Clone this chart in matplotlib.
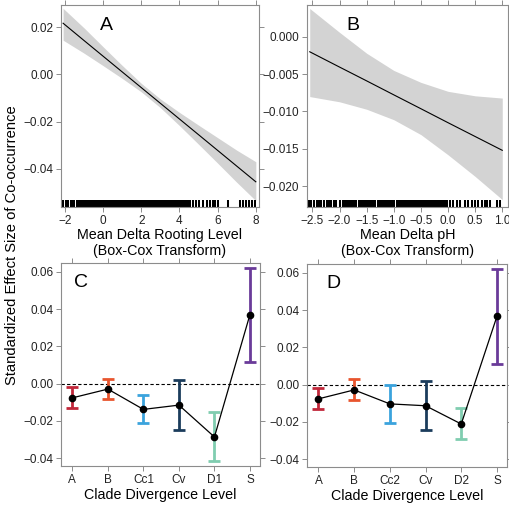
import matplotlib
matplotlib.use("Agg")
import matplotlib.pyplot as plt
import matplotlib.transforms as mtransforms

plt.rcParams['font.family'] = ['Liberation Sans', 'DejaVu Sans']

# panel A: fitted line and confidence band
a_x = [-2.1, -1, 0, 1, 2, 3, 4, 5, 6, 7, 8]
a_fit = [0.0217, 0.01435, 0.0077, 0.00105, -0.0056, -0.01225, -0.0189, -0.02555, -0.0322, -0.03885, -0.0455]
a_upper = [0.0280, 0.0197, 0.0117, 0.0038, -0.0038, -0.0104, -0.0161, -0.0215, -0.0268, -0.0321, -0.0370]
a_lower = [0.0145, 0.0090, 0.0037, -0.0017, -0.0074, -0.0141, -0.0217, -0.0296, -0.0376, -0.0457, -0.0535]
a_rug = [-2.09, -1.97, -1.83, -1.71, -1.60, -1.53, -1.39, -1.29, -1.22, -1.15, -1.09, -1.02, -0.95,
         -0.88, -0.82, -0.75, -0.69, -0.62, -0.55, -0.49, -0.42, -0.36, -0.29, -0.22, -0.16, -0.09,
         -0.03, 0.04, 0.11, 0.17, 0.24, 0.30, 0.37, 0.43, 0.50, 0.57, 0.63, 0.70, 0.76, 0.83, 0.89,
         0.96, 1.03, 1.09, 1.16, 1.22, 1.29, 1.36, 1.42, 1.49, 1.55, 1.62, 1.68, 1.75, 1.82, 1.88,
         1.95, 2.01, 2.08, 2.14, 2.21, 2.28, 2.34, 2.41, 2.47, 2.54, 2.61, 2.67, 2.74, 2.80, 2.87,
         2.93, 3.00, 3.07, 3.13, 3.20, 3.26, 3.33, 3.40, 3.46, 3.53, 3.59, 3.66, 3.72, 3.79, 3.86,
         3.92, 3.99, 4.05, 4.12, 4.18, 4.25, 4.32, 4.38, 4.45, 4.54, 4.71, 4.89, 5.03, 5.24, 5.45,
         5.59, 5.76, 5.86, 6.02, 6.54, 7.16, 7.33, 7.51, 7.64, 7.82, 7.94]

# panel B
b_x = [-2.55, -2.0, -1.5, -1.0, -0.5, 0.0, 0.5, 1.0]
b_fit = [-0.0020, -0.00405, -0.0059, -0.00777, -0.00963, -0.0115, -0.01335, -0.0152]
b_upper = [0.0038, 0.0006, -0.0022, -0.0045, -0.0061, -0.0073, -0.0079, -0.0082]
b_lower = [-0.0080, -0.0087, -0.0097, -0.0111, -0.0131, -0.0158, -0.0187, -0.0218]
b_rug = [-2.56, -2.52, -2.47, -2.42, -2.38, -2.34, -2.29, -2.24, -2.19, -2.15, -2.11, -2.06, -1.99,
         -1.93, -1.90, -1.86, -1.83, -1.79, -1.76, -1.72, -1.69, -1.65, -1.62, -1.58, -1.55, -1.51,
         -1.48, -1.44, -1.41, -1.37, -1.34, -1.30, -1.27, -1.23, -1.20, -1.16, -1.13, -1.09, -1.06,
         -1.02, -0.99, -0.95, -0.92, -0.88, -0.85, -0.81, -0.78, -0.74, -0.71, -0.67, -0.64, -0.60,
         -0.57, -0.53, -0.50, -0.46, -0.43, -0.39, -0.36, -0.32, -0.29, -0.25, -0.22, -0.18, -0.15,
         -0.11, -0.08, -0.04, -0.01, 0.03, 0.10, 0.16, 0.22, 0.31, 0.37, 0.44, 0.50, 0.56, 0.62,
         0.68, 0.72, 0.77, 0.90, 0.96]

# panels C and D: clade divergence levels
c_labels = ["A", "B", "Cc1", "Cv", "D1", "S"]
c_mean = [-0.0077, -0.0030, -0.0139, -0.0116, -0.0287, 0.0370]
c_low = [-0.0134, -0.0084, -0.0213, -0.0248, -0.0416, 0.0113]
c_high = [-0.0021, 0.0025, -0.0061, 0.0018, -0.0155, 0.0620]

d_labels = ["A", "B", "Cc2", "Cv", "D2", "S"]
d_mean = [-0.0077, -0.0029, -0.0104, -0.0114, -0.0212, 0.0366]
d_low = [-0.0132, -0.0082, -0.0205, -0.0246, -0.0295, 0.0111]
d_high = [-0.0021, 0.0027, 0.0000, 0.0021, -0.0127, 0.0620]

level_colors = ["#c1273a", "#e8552e", "#3ba3dd", "#1b3c5c", "#80cdb0", "#6a3b99"]

spine_col = "#8c8c8c"
label_size = 10.3


def style_axes(ax):
    for s in ax.spines.values():
        s.set_color(spine_col)
        s.set_linewidth(0.8)
    ax.tick_params(direction="out", length=3.5, width=0.7, color=spine_col,
                   labelsize=8.5, labelcolor="#222222", pad=2,
                   top=True, right=True, labeltop=False, labelright=False)


def fit_panel(ax, xs, fit, upper, lower, rug, letter):
    ax.fill_between(xs, lower, upper, color="#d3d3d3", linewidth=0)
    ax.plot(xs, fit, color="black", linewidth=0.8)
    trans = mtransforms.blended_transform_factory(ax.transData, ax.transAxes)
    ax.vlines(rug, 0.0, 0.035, color="black", linewidth=1.45, transform=trans)
    ax.text(0.23, 0.90, letter, transform=ax.transAxes, fontsize=14, ha="center", va="center")
    style_axes(ax)


def clade_panel(ax, labels, mean, low, high, letter, letter_x):
    pos = list(range(1, len(labels) + 1))
    ax.axhline(0, color="black", linestyle=(0, (3, 2)), linewidth=0.8)
    for p, lo, hi, col in zip(pos, low, high, level_colors):
        ax.errorbar([p], [(lo + hi) / 2], yerr=[[(lo + hi) / 2 - lo], [hi - (lo + hi) / 2]],
                    fmt="none", ecolor=col, elinewidth=2.0, capsize=4.0, capthick=2.0)
    ax.plot(pos, mean, color="black", linewidth=0.9, marker="o", markersize=4.5)
    ax.set_xticks(pos)
    ax.set_xticklabels(labels)
    ax.set_xlim(0.68, 6.28)
    ax.set_ylim(-0.0443, 0.0647)
    ax.set_yticks([-0.04, -0.02, 0.0, 0.02, 0.04, 0.06])
    ax.set_yticklabels(["\u22120.04", "\u22120.02", "0.00", "0.02", "0.04", "0.06"])
    ax.set_xlabel("Clade Divergence Level", fontsize=label_size, labelpad=2)
    ax.text(letter_x, 0.905, letter, transform=ax.transAxes, fontsize=14, ha="center", va="center")
    style_axes(ax)


fig = plt.figure(figsize=(5.10, 5.05), dpi=100)
ax_a = fig.add_axes([0.1196, 0.590, 0.388, 0.400])
ax_b = fig.add_axes([0.602, 0.590, 0.394, 0.400])
ax_c = fig.add_axes([0.1196, 0.0772, 0.390, 0.402])
ax_d = fig.add_axes([0.602, 0.0752, 0.392, 0.402])

fit_panel(ax_a, a_x, a_fit, a_upper, a_lower, a_rug, "A")
ax_a.set_xlim(-2.21, 8.16)
ax_a.set_ylim(-0.0562, 0.0294)
ax_a.set_xticks([-2, 0, 2, 4, 6, 8])
ax_a.set_xticklabels(["\u22122", "0", "2", "4", "6", "8"])
ax_a.set_yticks([-0.04, -0.02, 0.0, 0.02])
ax_a.set_yticklabels(["\u22120.04", "\u22120.02", "0.00", "0.02"])
ax_a.set_xlabel("Mean Delta Rooting Level\n(Box-Cox Transform)", fontsize=label_size, labelpad=1,
                linespacing=1.2)

fit_panel(ax_b, b_x, b_fit, b_upper, b_lower, b_rug, "B")
ax_b.set_xlim(-2.60, 1.105)
ax_b.set_ylim(-0.0228, 0.00426)
ax_b.set_xticks([-2.5, -2.0, -1.5, -1.0, -0.5, 0.0, 0.5, 1.0])
ax_b.set_xticklabels(["\u22122.5", "\u22122.0", "\u22121.5", "\u22121.0", "\u22120.5", "0.0", "0.5", "1.0"])
ax_b.set_yticks([-0.020, -0.015, -0.010, -0.005, 0.0])
ax_b.set_yticklabels(["\u22120.020", "\u22120.015", "\u22120.010", "\u22120.005", "0.000"])
ax_b.set_xlabel("Mean Delta pH\n(Box-Cox Transform)", fontsize=label_size, labelpad=1, linespacing=1.2)

clade_panel(ax_c, c_labels, c_mean, c_low, c_high, "C", 0.10)
clade_panel(ax_d, d_labels, d_mean, d_low, d_high, "D", 0.13)

fig.text(0.024, 0.515, "Standardized Effect Size of Co-occurrence", rotation=90,
         fontsize=10.6, ha="center", va="center")

fig.savefig("out.png", dpi=100)
